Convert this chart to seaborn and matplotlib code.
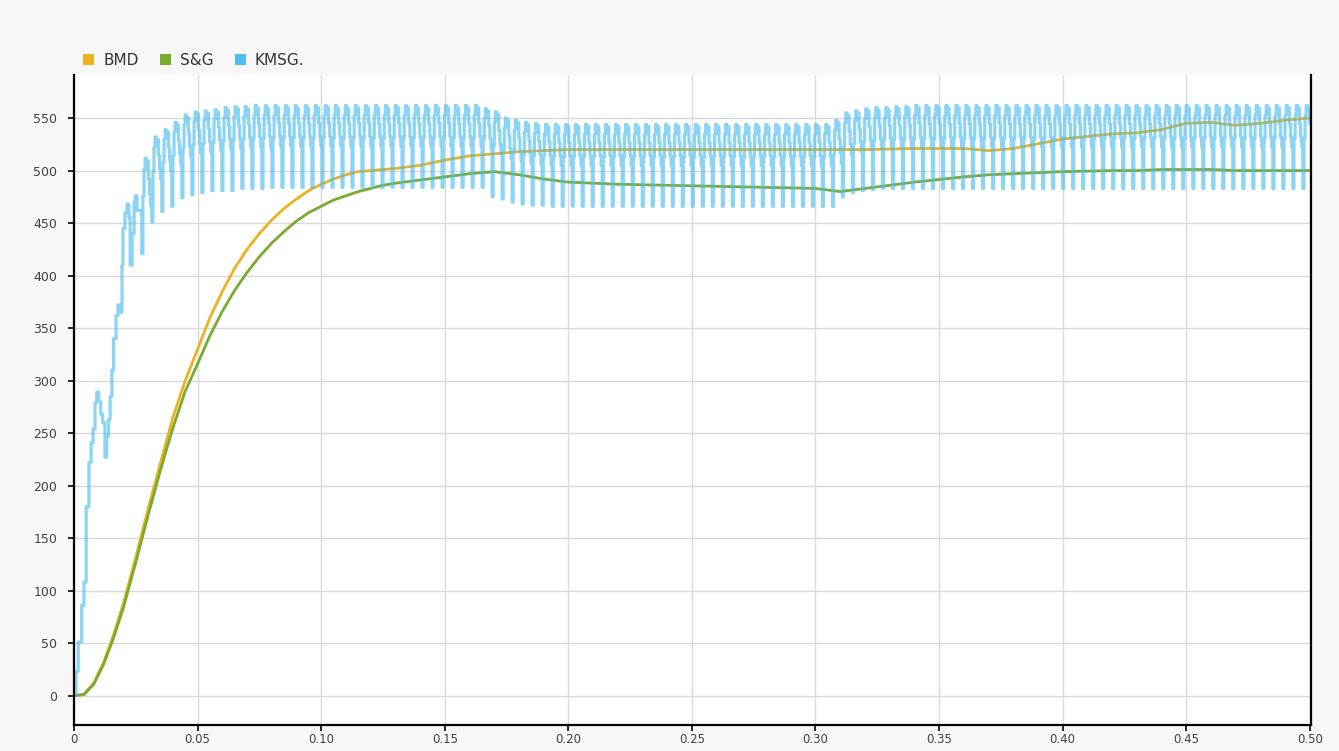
import numpy as np
import pandas as pd
import matplotlib
matplotlib.use("Agg")
import matplotlib.pyplot as plt
from matplotlib.patches import Patch
import seaborn as sns

# ---------------- data ----------------
series_names = ["BMD", "S&G", "KMSG."]
series_colors = ["#EDB120", "#77AC30", "#4DBEEE"]

# smooth responses (time in s)
t_smooth = [0, 0.004, 0.008, 0.012, 0.016, 0.02, 0.025, 0.03, 0.035, 0.04,
            0.045, 0.05, 0.055, 0.06, 0.065, 0.07, 0.075, 0.08, 0.085, 0.09,
            0.095, 0.10, 0.105, 0.11, 0.115, 0.12, 0.125, 0.13, 0.14, 0.15,
            0.16, 0.17, 0.18, 0.19, 0.20, 0.22, 0.24, 0.26, 0.28, 0.30,
            0.31, 0.32, 0.34, 0.36, 0.37, 0.38, 0.40, 0.42, 0.43, 0.44,
            0.45, 0.46, 0.47, 0.48, 0.49, 0.50]
bmd = [0, 1, 12, 32, 58, 88, 132, 178, 222, 265,
       300, 330, 360, 385, 407, 425, 440, 453, 464, 473,
       481, 487, 492, 496, 499, 500, 501, 502, 505, 510,
       514, 516, 518, 519, 520, 520, 520, 520, 520, 520,
       520, 520, 521, 521, 519, 521, 530, 535, 536, 539,
       545, 546, 543, 545, 548, 550]
sg = [0, 1, 11, 30, 55, 84, 127, 172, 215, 255,
      290, 316, 343, 366, 386, 403, 418, 431, 442, 452,
      460, 466, 472, 476, 480, 483, 486, 488, 491, 494,
      497, 499, 496, 492, 489, 487, 486, 485, 484, 483,
      480, 483, 489, 494, 496, 497, 499, 500, 500, 501,
      501, 501, 500, 500, 500, 500]

# KMSG: start-up transient (step samples)
kmsg_early_t = [0.0, 0.0008, 0.0017, 0.0031, 0.0040, 0.0049, 0.0060, 0.0069,
                0.0077, 0.0085, 0.0092, 0.0100, 0.0108, 0.0116, 0.0125, 0.0132,
                0.0140, 0.0146, 0.0153, 0.0160, 0.0170, 0.0178, 0.0186, 0.0194,
                0.0198, 0.0206, 0.0214, 0.0222, 0.0227, 0.0235, 0.0243, 0.0247,
                0.0255]
kmsg_early_v = [0, 23, 51, 86, 108, 180, 222, 241,
                254, 279, 289, 280, 268, 260, 227, 247,
                263, 285, 310, 340, 362, 372, 365, 410,
                445, 460, 468, 455, 410, 440, 470, 476,
                462]

# KMSG: steady ripple, one trough/peak pair per cycle
kmsg_period = 0.00405
kmsg_t_start = 0.0274
kmsg_peak = ([512, 532, 539, 546, 553, 556, 557, 558, 560, 561, 561]
             + [562] * 23
             + [559, 556, 550, 548, 546, 545]
             + [544] * 29
             + [548, 555, 557, 559, 560, 560, 561, 561, 562]
             + [562] * 39)
kmsg_trough = ([421, 451, 461, 466, 474, 477, 479, 481, 481, 481, 483, 483, 483]
               + [484] * 22
               + [475, 473, 470, 468, 467, 467]
               + [466] * 29
               + [475, 479, 481, 482, 483, 483, 483, 483]
               + [483] * 39)
# relative level of each sample inside one ripple cycle (0 = trough, 1 = peak)
kmsg_cycle_shape = [0.0, 0.6, 0.88, 1.0, 0.9, 0.97, 0.78, 0.62, 0.5]

x_ticks = [0, 0.05, 0.10, 0.15, 0.20, 0.25, 0.30, 0.35, 0.40, 0.45, 0.50]
x_tick_labels = ["0", "0.05", "0.10", "0.15", "0.20", "0.25", "0.30",
                 "0.35", "0.40", "0.45", "0.50"]
y_ticks = list(range(0, 551, 50))

# ---------------- build KMSG samples ----------------
kt = list(kmsg_early_t)
kv = list(kmsg_early_v)
n_sub = len(kmsg_cycle_shape)
for k, (lo, hi) in enumerate(zip(kmsg_trough, kmsg_peak)):
    t0 = kmsg_t_start + k * kmsg_period
    for j, f in enumerate(kmsg_cycle_shape):
        tt = t0 + j * kmsg_period / n_sub
        if tt > 0.5:
            break
        kt.append(tt)
        kv.append(lo + f * (hi - lo))

smooth_df = pd.DataFrame({"t": t_smooth, "BMD": bmd, "S&G": sg})
kmsg_df = pd.DataFrame({"t": kt, "v": kv})

# ---------------- figure ----------------
sns.set_theme(style="white")
plt.rcParams["font.family"] = ["DejaVu Sans"]

fig = plt.figure(figsize=(13.39, 7.51), dpi=100, facecolor="#f7f7f7")
ax = fig.add_axes([0.0553, 0.0346, 0.9238, 0.8655])
ax.set_facecolor("white")

sns.lineplot(data=smooth_df, x="t", y="BMD", ax=ax, color=series_colors[0],
             lw=2.0, estimator=None, sort=False, legend=False)
sns.lineplot(data=smooth_df, x="t", y="S&G", ax=ax, color=series_colors[1],
             lw=2.0, estimator=None, sort=False, legend=False)
sns.lineplot(data=kmsg_df, x="t", y="v", ax=ax, color=series_colors[2],
             lw=2.3, alpha=0.65, estimator=None, sort=False, legend=False,
             drawstyle="steps-post")

ax.set_xlim(0, 0.5005)
ax.set_ylim(-28, 591)
ax.set_xticks(x_ticks)
ax.set_xticklabels(x_tick_labels)
ax.set_yticks(y_ticks)
ax.set_yticklabels([str(v) for v in y_ticks])
ax.set_xlabel("")
ax.set_ylabel("")

ax.grid(True, color="#d9d9d9", lw=1)
ax.set_axisbelow(True)
ax.tick_params(axis="both", which="both", bottom=True, left=True,
               direction="out", length=4, width=1.2, color="black",
               labelsize=9, labelcolor="#404040")
ax.tick_params(axis="x", pad=1.5, labelsize=8.5)
ax.tick_params(axis="y", pad=8)

for side in ["left", "bottom", "right"]:
    ax.spines[side].set_visible(True)
    ax.spines[side].set_color("black")
    ax.spines[side].set_linewidth(1.6)
ax.spines["top"].set_visible(False)

handles = [Patch(facecolor=c, edgecolor="none") for c in series_colors]
fig.legend(handles, series_names, loc="center left",
           bbox_to_anchor=(0.052, 0.92), ncol=3, frameon=False,
           handlelength=0.7, handleheight=0.7, handletextpad=0.6,
           columnspacing=1.4, fontsize=11, labelcolor="#333333")

fig.savefig("out.png", dpi=100, facecolor=fig.get_facecolor())
